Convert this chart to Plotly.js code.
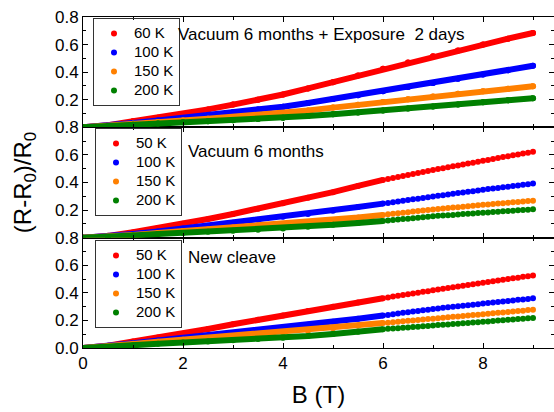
<!DOCTYPE html>
<html>
<head>
<meta charset="utf-8">
<script src="https://cdn.plot.ly/plotly-3.0.1.min.js"></script>
<style>html,body{margin:0;padding:0;background:#fff;}#chart{width:554px;height:412px;}</style>
</head>
<body>
<div id="chart"></div>
<script>
// ---------- DATA ----------
const panelTitles = ["Vacuum 6 months + Exposure  2 days", "Vacuum 6 months", "New cleave"];
const topLabels = ["60 K", "100 K", "150 K", "200 K"];
const labels = ["50 K", "100 K", "150 K", "200 K"];
const xTickVals = [0, 2, 4, 6, 8];
const xTickText = ["0", "2", "4", "6", "8"];

// top panel: dense data, 0 - 9 T
const B_full = [0,0.5,1,1.5,2,2.5,3,3.5,4,4.5,5,5.5,6,6.5,7,7.5,8,8.5,9];
const top_60K  = [0,0.015,0.044,0.070,0.097,0.130,0.165,0.200,0.238,0.282,0.327,0.375,0.424,0.470,0.516,0.558,0.601,0.643,0.684];
const top_100K = [0,0.012,0.032,0.050,0.068,0.088,0.109,0.130,0.150,0.176,0.206,0.233,0.262,0.292,0.322,0.352,0.383,0.414,0.446];
const top_150K = [0,0.010,0.026,0.038,0.050,0.062,0.075,0.088,0.102,0.122,0.143,0.163,0.184,0.203,0.223,0.243,0.262,0.280,0.298];
const top_200K = [0,0.008,0.018,0.028,0.036,0.044,0.052,0.060,0.070,0.082,0.095,0.108,0.122,0.136,0.151,0.166,0.181,0.196,0.211];

// middle & bottom panels: dense data 0 - 6 T, sparse data 6.1 - 9 T
const B_dense = [0,0.5,1,1.5,2,2.5,3,3.5,4,4.5,5,5.5,6];
const B_sparse = [6.1,6.2,6.3,6.4,6.5,6.6,6.7,6.8,6.9,7.0,7.1,7.2,7.3,7.4,7.5,7.6,7.7,7.8,7.9,8.0,8.1,8.2,8.3,8.4,8.5,8.6,8.7,8.8,8.9,9.0];

const mid_50K_dense  = [0,0.013,0.040,0.070,0.100,0.135,0.172,0.210,0.250,0.290,0.330,0.375,0.419];
const mid_100K_dense = [0,0.008,0.026,0.045,0.066,0.087,0.108,0.130,0.152,0.172,0.196,0.222,0.247];
const mid_150K_dense = [0,0.006,0.020,0.034,0.048,0.060,0.073,0.085,0.097,0.110,0.128,0.146,0.165];
const mid_200K_dense = [0,0.005,0.016,0.026,0.034,0.042,0.050,0.058,0.066,0.080,0.093,0.107,0.121];
const mid_50K_sparse  = [0.426,0.433,0.440,0.448,0.455,0.462,0.469,0.476,0.483,0.490,0.497,0.504,0.511,0.517,0.524,0.531,0.538,0.544,0.551,0.558,0.564,0.571,0.577,0.584,0.590,0.597,0.603,0.610,0.616,0.623];
const mid_100K_sparse = [0.252,0.257,0.262,0.268,0.273,0.278,0.283,0.288,0.293,0.298,0.303,0.308,0.313,0.318,0.323,0.328,0.332,0.337,0.342,0.347,0.352,0.356,0.361,0.366,0.370,0.375,0.379,0.384,0.388,0.393];
const mid_150K_sparse = [0.169,0.173,0.177,0.181,0.185,0.189,0.193,0.197,0.200,0.204,0.208,0.211,0.215,0.218,0.221,0.225,0.228,0.231,0.235,0.238,0.241,0.244,0.247,0.250,0.253,0.256,0.259,0.262,0.265,0.268];
const mid_200K_sparse = [0.124,0.128,0.131,0.135,0.138,0.141,0.145,0.148,0.152,0.155,0.158,0.160,0.163,0.165,0.168,0.171,0.173,0.176,0.178,0.181,0.183,0.186,0.188,0.191,0.193,0.196,0.198,0.201,0.203,0.206];

const bot_50K_dense  = [0,0.016,0.048,0.076,0.104,0.138,0.172,0.204,0.235,0.268,0.300,0.330,0.361];
const bot_100K_dense = [0,0.012,0.034,0.054,0.073,0.091,0.109,0.128,0.148,0.168,0.190,0.212,0.235];
const bot_150K_dense = [0,0.010,0.030,0.045,0.060,0.073,0.086,0.099,0.112,0.126,0.144,0.162,0.181];
const bot_200K_dense = [0,0.007,0.020,0.030,0.039,0.047,0.056,0.065,0.075,0.087,0.101,0.118,0.136];
const bot_50K_sparse  = [0.367,0.373,0.378,0.384,0.390,0.395,0.401,0.407,0.412,0.418,0.424,0.429,0.435,0.440,0.446,0.451,0.457,0.462,0.468,0.473,0.478,0.484,0.489,0.494,0.500,0.505,0.510,0.516,0.521,0.526];
const bot_100K_sparse = [0.240,0.245,0.250,0.255,0.259,0.264,0.269,0.274,0.278,0.283,0.287,0.291,0.295,0.299,0.303,0.306,0.310,0.314,0.318,0.322,0.326,0.330,0.333,0.337,0.341,0.345,0.349,0.352,0.356,0.360];
const bot_150K_sparse = [0.184,0.187,0.191,0.194,0.197,0.200,0.203,0.207,0.210,0.213,0.216,0.219,0.223,0.226,0.229,0.232,0.235,0.239,0.242,0.245,0.248,0.252,0.255,0.258,0.261,0.265,0.268,0.271,0.275,0.278];
const bot_200K_sparse = [0.139,0.141,0.144,0.147,0.149,0.152,0.155,0.157,0.160,0.163,0.166,0.168,0.171,0.174,0.176,0.179,0.182,0.185,0.187,0.190,0.193,0.196,0.199,0.201,0.204,0.207,0.210,0.213,0.215,0.218];

// ---------- STYLE ----------
const colors = ["#ff0000", "#0000ff", "#ff8000", "#008000"];
const FONT = "Liberation Sans, Arial, Helvetica, sans-serif";
const LW = 6, MS = 6;
const legName = s => '<span style="font-size:15px">' + s + '</span>';

const traces = [];
// top panel (x3,y3)
[top_60K, top_100K, top_150K, top_200K].forEach((ys, i) => {
  traces.push({x: B_full, y: ys, xaxis: "x3", yaxis: "y3", mode: "lines+markers", type: "scatter",
    line: {color: colors[i], width: LW}, marker: {color: colors[i], size: MS}, showlegend: false, hoverinfo: "skip"});
  traces.push({x: B_full, y: ys, xaxis: "x3", yaxis: "y3", mode: "markers", type: "scatter",
    marker: {color: colors[i], size: MS}, name: legName(topLabels[i]), legend: "legend"});
});
// middle panel (x2,y2)
const midD = [mid_50K_dense, mid_100K_dense, mid_150K_dense, mid_200K_dense];
const midS = [mid_50K_sparse, mid_100K_sparse, mid_150K_sparse, mid_200K_sparse];
midD.forEach((ys, i) => {
  traces.push({x: B_dense, y: ys, xaxis: "x2", yaxis: "y2", mode: "lines+markers", type: "scatter",
    line: {color: colors[i], width: LW}, marker: {color: colors[i], size: MS}, showlegend: false, hoverinfo: "skip"});
  traces.push({x: B_sparse, y: midS[i], xaxis: "x2", yaxis: "y2", mode: "markers", type: "scatter",
    marker: {color: colors[i], size: MS}, name: legName(labels[i]), legend: "legend2"});
});
// bottom panel (x,y)
const botD = [bot_50K_dense, bot_100K_dense, bot_150K_dense, bot_200K_dense];
const botS = [bot_50K_sparse, bot_100K_sparse, bot_150K_sparse, bot_200K_sparse];
botD.forEach((ys, i) => {
  traces.push({x: B_dense, y: ys, xaxis: "x", yaxis: "y", mode: "lines+markers", type: "scatter",
    line: {color: colors[i], width: LW}, marker: {color: colors[i], size: MS}, showlegend: false, hoverinfo: "skip"});
  traces.push({x: B_sparse, y: botS[i], xaxis: "x", yaxis: "y", mode: "markers", type: "scatter",
    marker: {color: colors[i], size: MS}, name: legName(labels[i]), legend: "legend3"});
});

const xRange = [0, 9.42];
function xax(anchor, showLabels) {
  return {
    anchor: anchor, range: xRange, showline: true, linecolor: "#000", linewidth: 1, mirror: "ticks",
    ticks: "inside", ticklen: 5, tickwidth: 1, tickcolor: "#000",
    tickvals: xTickVals, ticktext: xTickText, showticklabels: showLabels,
    minor: {tickvals: [1, 3, 5, 7, 9], ticks: "inside", ticklen: 3, tickcolor: "#000"},
    showgrid: false, zeroline: false,
    tickfont: {family: FONT, size: 17, color: "#000"}
  };
}
function yax(anchor, domain, vals) {
  return {
    anchor: anchor, domain: domain, range: [0, 0.8], showline: true, linecolor: "#000", linewidth: 1, mirror: "ticks",
    ticks: "inside", ticklen: 5, tickwidth: 1, tickcolor: "#000",
    tickvals: vals, ticktext: vals.map(v => v.toFixed(1)),
    minor: {dtick: 0.1, ticks: "inside", ticklen: 3, tickcolor: "#000"},
    showgrid: false, zeroline: false,
    tickfont: {family: FONT, size: 17, color: "#000"}
  };
}

const legendBase = {xanchor: "left", yanchor: "top", bgcolor: "rgba(255,255,255,0)", bordercolor: "#333",
  borderwidth: 1, font: {family: FONT, size: 12, color: "#000"}, traceorder: "normal", itemwidth: 30,
  entrywidth: 34, entrywidthmode: "pixels"};

const W = 471, H = 331, L = 83, T = 17;
const px = p => (p - L) / W;
const py = p => (T + H - p) / H;

const layout = {
  width: 554, height: 412,
  margin: {l: L, r: 0, t: T, b: 412 - T - H},
  paper_bgcolor: "#fff", plot_bgcolor: "#fff",
  font: {family: FONT, color: "#000"},
  xaxis: Object.assign(xax("y", true), {title: {text: "B (T)", font: {family: FONT, size: 24, color: "#000"}, standoff: 13}}),
  xaxis2: xax("y2", false),
  xaxis3: xax("y3", false),
  yaxis: yax("x", [0, 1/3], [0, 0.2, 0.4, 0.6, 0.8]),
  yaxis2: Object.assign(yax("x2", [1/3, 2/3], [0.2, 0.4, 0.6, 0.8]),
    {title: {text: "(R-R<sub>0</sub>)/R<sub>0</sub>", font: {family: FONT, size: 24, color: "#000"}, standoff: 16}}),
  yaxis3: yax("x3", [2/3, 1], [0.2, 0.4, 0.6, 0.8]),
  legend: Object.assign({}, legendBase, {x: px(93), y: py(18)}),
  legend2: Object.assign({}, legendBase, {x: px(95), y: py(128)}),
  legend3: Object.assign({}, legendBase, {x: px(95), y: py(240)}),
  annotations: [
    {text: panelTitles[0], xref: "paper", yref: "paper", x: px(176), y: py(34), xanchor: "left", yanchor: "middle",
      showarrow: false, font: {family: FONT, size: 17, color: "#000"}},
    {text: panelTitles[1], xref: "paper", yref: "paper", x: px(186), y: py(151), xanchor: "left", yanchor: "middle",
      showarrow: false, font: {family: FONT, size: 17, color: "#000"}},
    {text: panelTitles[2], xref: "paper", yref: "paper", x: px(186), y: py(257), xanchor: "left", yanchor: "middle",
      showarrow: false, font: {family: FONT, size: 17, color: "#000"}}
  ],
  showlegend: true
};

Plotly.newPlot("chart", traces, layout, {displayModeBar: false, staticPlot: true});
</script>
</body>
</html>
